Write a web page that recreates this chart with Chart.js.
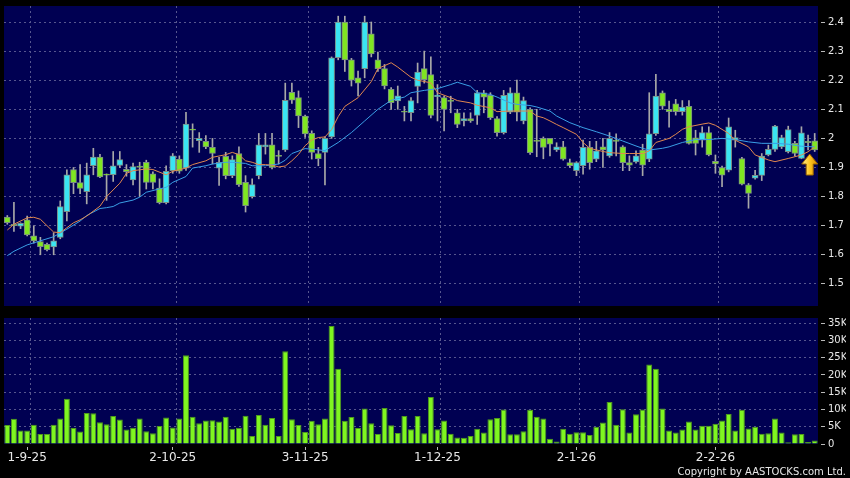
<!DOCTYPE html>
<html lang="en">
<head>
<meta charset="UTF-8">
<title>Price and volume</title>
<script src="https://cdn.jsdelivr.net/npm/chart.js@4.4.1/dist/chart.umd.min.js"></script>
<style>
  body { margin: 0; background: #000; }
  #wrap { position: relative; width: 850px; height: 478px; overflow: hidden; }
  canvas { position: absolute; left: 0; }
</style>
</head>
<body>
<div id="wrap">
  <canvas id="price" width="850" height="310" style="top:0"></canvas>
  <canvas id="volume" width="850" height="168" style="top:310px"></canvas>
</div>
<script>
// daily candles (one entry per trading day)
const open = [1.73, 1.705, 1.698, 1.72, 1.665, 1.645, 1.636, 1.627, 1.66, 1.748,
  1.893, 1.848, 1.817, 1.906, 1.936, 1.876, 1.875, 1.907, 1.894, 1.857,
  1.905, 1.918, 1.878, 1.829, 1.779, 1.889, 1.929, 1.898, 2.032, 1.992,
  1.99, 1.969, 1.898, 1.938, 1.872, 1.948, 1.849, 1.80, 1.872, 1.971,
  1.978, 1.94, 1.96, 2.158, 2.14, 2.077, 2.017, 1.948, 1.952, 2.005,
  2.277, 2.4, 2.27, 2.208, 2.24, 2.359, 2.27, 2.24, 2.169, 2.129,
  2.093, 2.088, 2.179, 2.24, 2.219, 2.143, 2.14, 2.13, 2.088, 2.06,
  2.068, 2.079, 2.157, 2.148, 2.068, 2.02, 2.09, 2.157, 2.06, 2.10,
  1.992, 2.0, 2.0, 1.96, 1.971, 1.917, 1.889, 1.906, 1.969, 1.929,
  1.971, 1.94, 1.992, 1.971, 1.917, 1.919, 1.96, 1.929, 2.016, 2.157,
  2.10, 2.119, 2.092, 2.11, 2.002, 1.994, 2.02, 1.921, 1.90, 1.891,
  1.994, 1.931, 1.84, 1.863, 1.873, 1.943, 1.962, 1.971, 1.954, 1.983,
  1.931, 1.99, 1.992];
const high = [1.735, 1.78, 1.71, 1.733, 1.70, 1.66, 1.64, 1.676, 1.785, 1.892,
  1.90, 1.91, 1.915, 1.966, 1.945, 1.878, 1.955, 1.955, 1.91, 1.915,
  1.918, 1.925, 1.885, 1.861, 1.906, 1.948, 1.94, 2.09, 2.05, 2.02,
  2.01, 2.0, 1.935, 1.952, 1.94, 1.971, 1.872, 1.861, 2.017, 2.017,
  2.017, 1.958, 2.19, 2.19, 2.163, 2.08, 2.026, 1.969, 2.005, 2.28,
  2.42, 2.42, 2.275, 2.231, 2.42, 2.4, 2.297, 2.254, 2.175, 2.18,
  2.11, 2.14, 2.259, 2.30, 2.28, 2.185, 2.145, 2.145, 2.10, 2.088,
  2.088, 2.165, 2.165, 2.157, 2.075, 2.165, 2.174, 2.20, 2.142, 2.105,
  2.10, 2.005, 2.0, 1.985, 1.99, 1.929, 1.92, 1.994, 1.99, 1.99,
  2.0, 2.02, 2.016, 1.975, 1.94, 1.957, 1.98, 2.157, 2.22, 2.163,
  2.128, 2.134, 2.13, 2.13, 2.028, 2.04, 2.04, 1.943, 1.905, 2.07,
  2.028, 1.935, 1.845, 1.89, 1.948, 1.977, 2.045, 2.011, 2.042, 1.99,
  2.04, 2.011, 2.017];
const low = [1.705, 1.68, 1.69, 1.665, 1.64, 1.60, 1.613, 1.60, 1.655, 1.716,
  1.81, 1.81, 1.775, 1.875, 1.865, 1.787, 1.852, 1.90, 1.87, 1.84,
  1.80, 1.826, 1.826, 1.775, 1.775, 1.88, 1.88, 1.89, 1.97, 1.952,
  1.965, 1.912, 1.838, 1.861, 1.865, 1.835, 1.747, 1.795, 1.861, 1.946,
  1.895, 1.912, 1.955, 2.12, 2.037, 2.003, 1.929, 1.906, 1.84, 2.0,
  2.27, 2.23, 2.18, 2.146, 2.208, 2.28, 2.23, 2.17, 2.10, 2.10,
  2.06, 2.06, 2.122, 2.19, 2.07, 2.06, 2.026, 2.088, 2.037, 2.043,
  2.055, 2.048, 2.088, 2.065, 2.008, 2.015, 2.085, 2.06, 2.05, 1.945,
  1.937, 1.93, 1.94, 1.955, 1.925, 1.90, 1.872, 1.877, 1.894, 1.92,
  1.90, 1.935, 1.94, 1.889, 1.889, 1.915, 1.872, 1.92, 2.01, 2.10,
  2.039, 2.08, 2.08, 1.98, 1.943, 1.97, 1.94, 1.88, 1.834, 1.885,
  1.97, 1.84, 1.76, 1.86, 1.855, 1.94, 1.955, 1.965, 1.95, 1.94,
  1.93, 1.96, 1.955];
const close = [1.71, 1.70, 1.708, 1.668, 1.648, 1.628, 1.618, 1.648, 1.766, 1.875,
  1.848, 1.828, 1.875, 1.936, 1.868, 1.874, 1.906, 1.927, 1.886, 1.903,
  1.90, 1.849, 1.849, 1.779, 1.887, 1.94, 1.887, 2.049, 2.028, 2.0,
  1.971, 1.948, 1.918, 1.872, 1.927, 1.841, 1.769, 1.841, 1.978, 1.978,
  1.90, 1.938, 2.131, 2.131, 2.077, 2.015, 1.952, 1.93, 2.0, 2.277,
  2.4, 2.27, 2.2, 2.19, 2.4, 2.29, 2.24, 2.18, 2.123, 2.146,
  2.09, 2.13, 2.228, 2.202, 2.079, 2.149, 2.10, 2.127, 2.048, 2.068,
  2.06, 2.157, 2.142, 2.071, 2.02, 2.148, 2.157, 2.09, 2.13, 1.951,
  1.99, 1.969, 1.98, 1.971, 1.929, 1.906, 1.917, 1.969, 1.917, 1.957,
  1.96, 2.0, 1.99, 1.917, 1.908, 1.94, 1.908, 2.016, 2.145, 2.111,
  2.092, 2.092, 2.108, 1.983, 1.983, 2.02, 1.943, 1.912, 1.874, 2.04,
  2.003, 1.843, 1.811, 1.873, 1.939, 1.962, 2.042, 2.003, 2.03, 1.948,
  2.019, 1.985, 1.96];
// volume in thousands
const volume = [5.5, 7.3, 3.9, 3.9, 5.6, 2.9, 2.9, 5.6, 7.4, 13.1,
  4.6, 3.6, 9.0, 8.9, 6.3, 5.7, 8.1, 7.1, 4.2, 4.7,
  7.4, 3.7, 3.1, 5.2, 7.7, 4.8, 7.4, 25.7, 7.9, 6.0,
  6.8, 6.9, 6.5, 7.9, 4.4, 4.7, 8.2, 2.3, 8.4, 5.6,
  7.5, 2.3, 26.9, 7.2, 5.5, 3.5, 6.7, 5.7, 7.4, 34.2,
  21.8, 6.7, 7.8, 4.6, 10.3, 6.0, 2.9, 10.4, 5.4, 3.2,
  8.1, 4.3, 8.1, 3.1, 13.6, 4.3, 6.8, 3.0, 1.9, 1.8,
  2.3, 4.4, 3.3, 7.2, 7.5, 10.0, 2.8, 2.8, 3.7, 9.9,
  7.9, 7.4, 1.5, 0.7, 4.4, 3.0, 3.4, 3.4, 2.6, 5.0,
  6.2, 12.2, 5.6, 10.1, 3.3, 8.6, 10.0, 23.0, 21.8, 10.3,
  3.9, 3.3, 4.2, 6.5, 4.2, 5.3, 5.3, 5.9, 6.8, 8.7,
  3.9, 9.9, 4.5, 5.0, 3.0, 3.1, 7.4, 3.3, 0.5, 2.8,
  2.9, 0.6, 1.0];

// moving averages as [day, value], read at intervals
const maShort = [[0, 1.685], [1, 1.705], [3, 1.727], [4, 1.729], [5, 1.722], [6, 1.70], [7, 1.678], [8, 1.676],
  [9, 1.693], [10, 1.71], [11, 1.72], [12, 1.733], [14, 1.767], [15, 1.80], [17, 1.846], [18, 1.88],
  [19, 1.889], [20, 1.892], [21, 1.895], [22, 1.893], [24, 1.875], [25, 1.887], [27, 1.898], [28, 1.91],
  [30, 1.923], [31, 1.935], [33, 1.944], [34, 1.952], [35, 1.944], [36, 1.923], [37, 1.918], [38, 1.91],
  [39, 1.91], [40, 1.908], [41, 1.902], [42, 1.905], [43, 1.923], [44, 1.945], [45, 1.975], [46, 1.994],
  [47, 2.003], [48, 2.005], [49, 2.03], [50, 2.075], [51, 2.11], [52, 2.125], [53, 2.14], [55, 2.195],
  [56, 2.24], [58, 2.26], [59, 2.245], [61, 2.21], [62, 2.2], [64, 2.191], [65, 2.157], [67, 2.14],
  [68, 2.13], [70, 2.122], [71, 2.114], [73, 2.105], [74, 2.092], [76, 2.094], [77, 2.094], [79, 2.094],
  [80, 2.077], [81, 2.071], [82, 2.06], [83, 2.048], [84, 2.037], [86, 2.014], [87, 1.986], [88, 1.966],
  [90, 1.955], [91, 1.951], [93, 1.948], [94, 1.948], [96, 1.948], [97, 1.957], [98, 1.986], [100, 2.0],
  [101, 2.014], [102, 2.031], [103, 2.04], [105, 2.049], [106, 2.053], [107, 2.045], [109, 2.017], [110, 1.994],
  [112, 1.971], [113, 1.943], [115, 1.926], [116, 1.92], [118, 1.931], [120, 1.943], [121, 1.954], [122, 1.971]];
const maLong = [[0, 1.597], [1, 1.612], [3, 1.634], [5, 1.648], [7, 1.662], [9, 1.688], [11, 1.716], [12, 1.735],
  [14, 1.759], [15, 1.762], [16, 1.766], [17, 1.778], [19, 1.788], [20, 1.798], [21, 1.815], [24, 1.832],
  [25, 1.849], [27, 1.869], [28, 1.898], [30, 1.906], [31, 1.912], [33, 1.918], [34, 1.918], [36, 1.914],
  [37, 1.906], [39, 1.906], [41, 1.912], [42, 1.925], [43, 1.948], [45, 1.965], [46, 1.963], [48, 1.958],
  [50, 1.986], [52, 2.02], [54, 2.06], [56, 2.1], [58, 2.131], [60, 2.142], [61, 2.157], [63, 2.165],
  [65, 2.171], [67, 2.185], [68, 2.193], [70, 2.179], [71, 2.157], [73, 2.151], [74, 2.142], [76, 2.122],
  [77, 2.117], [79, 2.113], [80, 2.108], [82, 2.094], [83, 2.077], [85, 2.054], [87, 2.037], [89, 2.023],
  [91, 2.008], [93, 1.991], [95, 1.974], [96, 1.966], [97, 1.96], [99, 1.966], [100, 1.971], [102, 1.986],
  [104, 1.996], [106, 1.996], [108, 2.0], [110, 1.996], [112, 1.988], [114, 1.983], [116, 1.983], [118, 1.98],
  [120, 1.973], [122, 1.971]];

const priceTicks = [1.5, 1.6, 1.7, 1.8, 1.9, 2.0, 2.1, 2.2, 2.3, 2.4];
const volumeTicks = [0, 5, 10, 15, 20, 25, 30, 35];
const tickLabels = ['1-9-25', '2-10-25', '3-11-25', '1-12-25', '2-1-26', '2-2-26'];
const tickIndex = [3, 25, 45, 65, 86, 107];

const days = volume.map((v, i) => i);

const navy = '#000052';
const gridColor = '#56568e';
const textColor = '#e8e8e8';
const tickMark = '#b8b8b8';
const cyan = '#3ae4f2';
const lime = '#80e622';

Chart.defaults.font.family = '"DejaVu Sans", sans-serif';
Chart.defaults.animation = false;

const plotBg = {
  id: 'plotBg',
  beforeDraw(chart) {
    const a = chart.chartArea;
    const ctx = chart.ctx;
    ctx.save();
    ctx.fillStyle = navy;
    ctx.fillRect(a.left, a.top, a.right - a.left, a.bottom - a.top);
    ctx.restore();
  }
};

// little gold arrow under the last close
const lastArrow = {
  id: 'lastArrow',
  afterDatasetsDraw(chart) {
    const i = close.length - 1;
    const x = chart.scales.x.getPixelForValue(i) - 5;
    const y = chart.scales.y.getPixelForValue(close[i]) + 4;
    const ctx = chart.ctx;
    const g = ctx.createLinearGradient(x - 8, 0, x + 8, 0);
    g.addColorStop(0, '#fff09a');
    g.addColorStop(0.5, '#ffc61e');
    g.addColorStop(1, '#d98a00');
    ctx.save();
    ctx.beginPath();
    ctx.moveTo(x, y);
    ctx.lineTo(x + 8, y + 10);
    ctx.lineTo(x + 3.5, y + 10);
    ctx.lineTo(x + 3.5, y + 21);
    ctx.lineTo(x - 3.5, y + 21);
    ctx.lineTo(x - 3.5, y + 10);
    ctx.lineTo(x - 8, y + 10);
    ctx.closePath();
    ctx.fillStyle = g;
    ctx.fill();
    ctx.strokeStyle = '#9a6400';
    ctx.lineWidth = 1;
    ctx.stroke();
    ctx.restore();
  }
};

const dateGrid = c => tickIndex.includes(c.index - 1) ? gridColor : 'transparent';

// y-axis tick: 3px gap, 4px dash, 3px gap, then the label
const yTickGrid = {
  tickColor: tickMark,
  tickLength: 10,
  tickBorderDash: [0, 3, 4, 3]
};

new Chart(document.getElementById('price'), {
  type: 'bar',
  data: {
    labels: days,
    datasets: [{
      type: 'line',
      data: maShort.map(p => ({ x: p[0], y: p[1] })),
      borderColor: '#e0874f',
      borderWidth: 1,
      pointRadius: 0,
      pointHoverRadius: 0,
      order: 1
    }, {
      type: 'line',
      data: maLong.map(p => ({ x: p[0], y: p[1] })),
      borderColor: '#3a9fe6',
      borderWidth: 1,
      pointRadius: 0,
      pointHoverRadius: 0,
      order: 1
    }, {
      data: days.map(i => [open[i], close[i]]),
      backgroundColor: c => close[c.dataIndex] >= open[c.dataIndex] ? cyan : lime,
      borderColor: '#7a8c86',
      borderWidth: 1,
      borderSkipped: false,
      barThickness: 6,
      minBarLength: 1,
      grouped: false,
      order: 2
    }, {
      data: days.map(i => [low[i], high[i]]),
      backgroundColor: '#a8a8a8',
      barThickness: 1,
      grouped: false,
      order: 3
    }]
  },
  options: {
    responsive: false,
    layout: { autoPadding: false, padding: { left: 4, top: 6, right: 4, bottom: 4 } },
    plugins: { legend: { display: false }, tooltip: { enabled: false } },
    scales: {
      x: {
        offset: true,
        afterFit: s => { s.height = 0; },
        ticks: { display: false },
        border: { display: false, dash: [2, 3] },
        grid: { offset: true, drawTicks: false, color: dateGrid }
      },
      y: {
        position: 'right',
        min: 1.424,
        max: 2.455,
        afterFit: s => { s.width = 28; },
        afterBuildTicks: s => { s.ticks = priceTicks.map(v => ({ value: v })); },
        ticks: { color: textColor, font: { size: 10, lineHeight: 0.8 }, padding: 0, callback: v => String(+v.toFixed(1)) },
        border: { display: false, dash: [2, 3] },
        grid: Object.assign({ color: gridColor }, yTickGrid)
      }
    }
  },
  plugins: [plotBg, lastArrow]
});

new Chart(document.getElementById('volume'), {
  type: 'bar',
  data: {
    labels: days,
    datasets: [{
      data: volume,
      backgroundColor: '#7ff620',
      borderColor: '#4f9a1c',
      borderWidth: 1,
      borderSkipped: 'bottom',
      barPercentage: 0.9,
      categoryPercentage: 1
    }]
  },
  options: {
    responsive: false,
    layout: { autoPadding: false, padding: { left: 4, top: 8, right: 4, bottom: 0 } },
    plugins: {
      legend: { display: false },
      tooltip: { enabled: false },
      title: {
        display: true,
        position: 'bottom',
        align: 'end',
        text: 'Copyright by AASTOCKS.com Ltd.',
        color: textColor,
        font: { size: 10, weight: 'normal' },
        padding: 0
      }
    },
    scales: {
      x: {
        offset: true,
        afterFit: s => { s.height = 22; },
        ticks: {
          autoSkip: false,
          maxRotation: 0,
          color: textColor,
          font: { size: 12 },
          padding: 1,
          callback: (v, i) => {
            const k = tickIndex.indexOf(i);
            return k >= 0 ? tickLabels[k] : '';
          }
        },
        border: { display: false },
        grid: {
          offset: false,
          drawOnChartArea: false,
          tickLength: 6,
          tickColor: c => tickIndex.includes(c.index) ? tickMark : 'transparent',
          tickBorderDash: [0, 3, 3, 0]
        }
      },
      x2: {
        axis: 'x',
        type: 'category',
        offset: true,
        afterFit: s => { s.height = 0; },
        ticks: { display: false },
        border: { display: false, dash: [2, 3] },
        grid: { offset: true, drawTicks: false, color: dateGrid }
      },
      y: {
        position: 'right',
        min: 0,
        max: 36.5,
        afterFit: s => { s.width = 28; },
        afterBuildTicks: s => { s.ticks = volumeTicks.map(v => ({ value: v })); },
        ticks: { color: textColor, font: { size: 10, lineHeight: 0.8 }, padding: 0, callback: v => v === 0 ? '0' : v + 'K' },
        border: { display: false, dash: [2, 3] },
        grid: Object.assign({ color: c => c.tick && c.tick.value === 0 ? 'transparent' : gridColor }, yTickGrid)
      }
    }
  },
  plugins: [plotBg]
});
</script>
</body>
</html>
